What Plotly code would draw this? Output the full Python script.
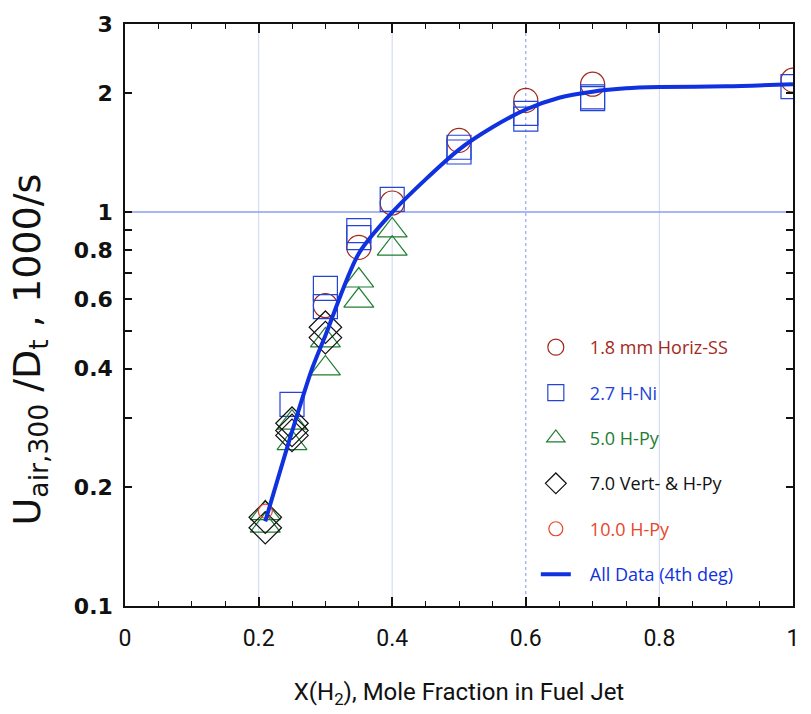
import plotly.graph_objects as go

# ---- data ----
circ_x = [0.3, 0.35, 0.4, 0.5, 0.6, 0.7, 1.0]
circ_y = [0.579, 0.813, 1.054, 1.52, 1.92, 2.11, 2.16]

sq_x = [0.25, 0.3, 0.3, 0.35, 0.35, 0.4, 0.5, 0.5, 0.6, 0.6, 0.7, 0.7, 1.0]
sq_y = [0.325, 0.64, 0.575, 0.897, 0.861, 1.077, 1.46, 1.42, 1.78, 1.72, 1.96, 1.94, 2.08]

tri_x = [0.21, 0.21, 0.25, 0.25, 0.3, 0.3, 0.35, 0.35, 0.4, 0.4]
tri_y = [0.172, 0.160, 0.292, 0.259, 0.472, 0.401, 0.67, 0.596, 0.898, 0.807]

dia_x = [0.21, 0.21, 0.25, 0.25, 0.25, 0.3, 0.3]
dia_y = [0.168, 0.158, 0.291, 0.279, 0.271, 0.51, 0.48]

small_x = [0.21]
small_y = [0.174]

fit_x = [0.21, 0.25, 0.28, 0.3, 0.35, 0.4, 0.45, 0.5, 0.55, 0.6, 0.65, 0.7, 0.75, 0.8, 0.9, 1.0]
fit_y = [0.164, 0.277, 0.40, 0.486, 0.785, 0.998, 1.21, 1.44, 1.64, 1.82, 1.95, 2.02, 2.06, 2.075, 2.085, 2.11]

x_ticks = [0, 0.2, 0.4, 0.6, 0.8, 1]
x_ticktext = ["0", "0.2", "0.4", "0.6", "0.8", "1"]
y_ticks = [0.1, 0.2, 0.4, 0.6, 0.8, 1, 2, 3]
y_ticktext = ["0.1", "0.2", "0.4", "0.6", "0.8", "1", "2", "3"]
y_minor = [0.3, 0.5, 0.7, 0.9]

names = ["1.8 mm Horiz-SS", "2.7 H-Ni", "5.0 H-Py", "7.0 Vert- & H-Py", "10.0 H-Py", "All Data (4th deg)"]
colors = ["#a3281b", "#2444d8", "#1e7d30", "#111111", "#e8462a", "#0f31e0"]

fig = go.Figure()

def legend_name(i):
    return "\u00a0\u00a0\u00a0<span style='color:%s'>%s</span>" % (colors[i], names[i])

def add_pts(x, y, sym, size, i):
    fig.add_trace(go.Scatter(
        x=x, y=y, mode="markers", name=legend_name(i), legendgroup=str(i),
        marker=dict(symbol=sym, size=size, color=colors[i], line=dict(width=1.2, color=colors[i])),
    ))

add_pts(circ_x, circ_y, "circle-open", 24, 0)
add_pts(sq_x, sq_y, "square-open", 24, 1)
add_pts(tri_x, tri_y, "triangle-up-open", 26, 2)
add_pts(dia_x, dia_y, "diamond-open", 25, 3)
add_pts(small_x, small_y, "circle-open", 14, 4)

fig.add_trace(go.Scatter(
    x=fit_x, y=fit_y, mode="lines", name=legend_name(5), legendgroup="5",
    line=dict(color=colors[5], width=4, shape="spline", smoothing=0.8),
))

# grid lines
shapes = []
for gx in [0.2, 0.4, 0.8]:
    shapes.append(dict(type="line", xref="x", yref="paper", x0=gx, x1=gx, y0=0, y1=1,
                       line=dict(color="#d6dcf8", width=1.2), layer="below"))
shapes.append(dict(type="line", xref="x", yref="paper", x0=0.6, x1=0.6, y0=0, y1=1,
                   line=dict(color="#7f94ee", width=1, dash="dot"), layer="below"))
shapes.append(dict(type="line", xref="paper", yref="y", x0=0, x1=1, y0=1, y1=1,
                   line=dict(color="#8c9ef0", width=1.5), layer="below"))

fig.update_layout(
    width=811, height=714,
    margin=dict(l=125, r=14, t=23, b=108),
    paper_bgcolor="white", plot_bgcolor="white",
    shapes=shapes,
    showlegend=True,
    legend=dict(
        x=0.615, y=0.476, xanchor="left", yanchor="top",
        bgcolor="rgba(0,0,0,0)", borderwidth=0,
        font=dict(family="Open Sans", size=18),
        tracegroupgap=19, itemsizing="trace",
    ),
    annotations=[dict(
        text="U<sub>air,300</sub> /D<sub>t</sub> , 1000/s",
        xref="paper", yref="paper", x=(29 - 125) / 672, y=0.44,
        xanchor="center", yanchor="middle", textangle=-90, showarrow=False,
        font=dict(family="DejaVu Sans", size=38, color="#111"),
    )],
    xaxis=dict(
        range=[0, 1], tickvals=x_ticks, ticktext=x_ticktext,
        ticks="inside", ticklen=9, tickwidth=1.5, tickcolor="#111",
        minor=dict(dtick=0.05, ticks="inside", ticklen=5, tickwidth=1.2, tickcolor="#111"),
        showgrid=False, zeroline=False,
        showline=True, linecolor="#111", linewidth=1.5, mirror="ticks",
        tickfont=dict(family="Roboto", size=23, color="#111"),
        ticklabelstandoff=11,
        title=dict(text="X(H<sub>2</sub>), Mole Fraction in Fuel Jet",
                   font=dict(family="Roboto", size=24, color="#111"), standoff=32),
    ),
    yaxis=dict(
        type="log", range=[-1, 0.47712], tickvals=y_ticks, ticktext=y_ticktext,
        ticks="inside", ticklen=7, tickwidth=1.5, tickcolor="#111",
        minor=dict(tickvals=y_minor, ticks="inside", ticklen=7, tickwidth=1.5, tickcolor="#111"),
        showgrid=False, zeroline=False,
        showline=True, linecolor="#111", linewidth=1.5, mirror="ticks",
        tickfont=dict(family="DejaVu Sans", size=22, color="#111", weight="bold"),
        ticklabelstandoff=6,
    ),
)

fig.write_html("out.html")
